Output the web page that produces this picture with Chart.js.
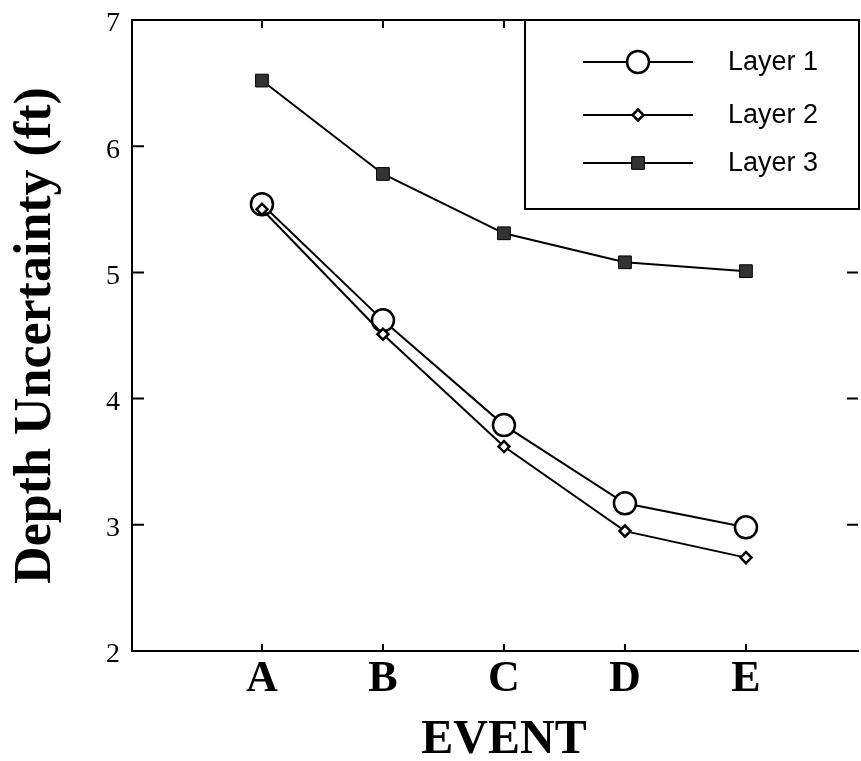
<!DOCTYPE html>
<html>
<head>
<meta charset="utf-8">
<script src="https://cdn.jsdelivr.net/npm/chart.js@4/dist/chart.umd.min.js"></script>
<style>
  body { margin: 0; background: #fff; }
  canvas { display: block; }
</style>
</head>
<body>
<canvas id="depthChart" width="861" height="761"></canvas>
<script>
// Values
const categories = ['A', 'B', 'C', 'D', 'E'];
const layer1 = [5.54, 4.62, 3.79, 3.17, 2.98];
const layer2 = [5.50, 4.51, 3.62, 2.95, 2.74];
const layer3 = [6.52, 5.78, 5.31, 5.08, 5.01];
const yTicks = [2, 3, 4, 5, 6, 7];
const seriesNames = ['Layer 1', 'Layer 2', 'Layer 3'];
const xTitle = 'EVENT';
const yTitle = 'Depth Uncertainty (ft)';

function toPoints(values) {
    return values.map((v, i) => ({ x: i, y: v }));
}

// Frame bits the original has: top border, inward ticks, boxed legend, x title
const framePlugin = {
    id: 'frame',
    afterDraw(chart) {
        const { ctx, chartArea: a, scales: { x, y } } = chart;
        ctx.save();
        ctx.strokeStyle = '#000';
        ctx.lineWidth = 2;
        ctx.beginPath();
        ctx.moveTo(a.left, a.top);
        ctx.lineTo(a.right + 2, a.top);
        yTicks.slice(1, -1).forEach(v => {
            const py = y.getPixelForValue(v);
            ctx.moveTo(a.left, py);
            ctx.lineTo(a.left + 12, py);
            ctx.moveTo(a.right, py);
            ctx.lineTo(a.right - 11, py);
        });
        categories.forEach((c, i) => {
            const px = x.getPixelForValue(i);
            ctx.moveTo(px, a.bottom);
            ctx.lineTo(px, a.bottom - 7);
            ctx.moveTo(px, a.top);
            ctx.lineTo(px, a.top + 8);
        });
        ctx.stroke();

        // legend box
        const box = { left: 525, top: a.top, right: a.right + 1, bottom: 209 };
        ctx.fillStyle = '#fff';
        ctx.fillRect(box.left, box.top + 1, box.right - box.left, box.bottom - box.top);
        ctx.beginPath();
        ctx.moveTo(box.left, box.top);
        ctx.lineTo(box.left, box.bottom);
        ctx.lineTo(box.right, box.bottom);
        ctx.lineTo(box.right, box.top);
        ctx.stroke();

        const rows = [62, 115, 163];
        chart.data.datasets.forEach((ds, i) => {
            const ry = rows[i];
            ctx.strokeStyle = '#000';
            ctx.lineWidth = 2;
            ctx.beginPath();
            ctx.moveTo(583, ry);
            ctx.lineTo(693, ry);
            ctx.stroke();
            ctx.fillStyle = ds.pointBackgroundColor;
            ctx.strokeStyle = ds.pointBorderColor;
            ctx.lineWidth = ds.pointBorderWidth;
            Chart.helpers.drawPoint(ctx, {
                pointStyle: ds.pointStyle,
                radius: ds.pointRadius,
                borderWidth: ds.pointBorderWidth,
                rotation: 0
            }, 638, ry);
            ctx.fillStyle = '#000';
            ctx.font = '27px "Liberation Sans"';
            ctx.textAlign = 'left';
            ctx.textBaseline = 'middle';
            ctx.fillText(ds.label, 728, ry + 1);
        });

        // x axis title, centred on the event ticks
        const cx = (x.getPixelForValue(0) + x.getPixelForValue(categories.length - 1)) / 2;
        ctx.fillStyle = '#000';
        ctx.font = 'bold 48px "Liberation Serif"';
        ctx.textAlign = 'center';
        ctx.textBaseline = 'alphabetic';
        ctx.fillText(xTitle, cx, 753);
        ctx.restore();
    }
};

new Chart(document.getElementById('depthChart'), {
    type: 'line',
    data: {
        datasets: [
            {
                label: seriesNames[0],
                data: toPoints(layer1),
                borderColor: '#000',
                borderWidth: 2,
                pointStyle: 'circle',
                pointRadius: 11,
                pointBorderWidth: 2.5,
                pointBackgroundColor: '#fff',
                pointBorderColor: '#000',
                order: 1
            },
            {
                label: seriesNames[1],
                data: toPoints(layer2),
                borderColor: '#000',
                borderWidth: 2,
                pointStyle: 'rectRot',
                pointRadius: 5.5,
                pointBorderWidth: 2.5,
                pointBackgroundColor: '#fff',
                pointBorderColor: '#000',
                order: 0
            },
            {
                label: seriesNames[2],
                data: toPoints(layer3),
                borderColor: '#000',
                borderWidth: 2,
                pointStyle: 'rect',
                pointRadius: 9,
                pointBorderWidth: 1,
                pointBackgroundColor: '#333',
                pointBorderColor: '#000',
                order: 2
            }
        ]
    },
    options: {
        responsive: false,
        animation: false,
        devicePixelRatio: 1,
        layout: {
            autoPadding: false,
            padding: { top: 20, right: 3, left: 0, bottom: 0 }
        },
        plugins: {
            legend: { display: false },
            tooltip: { enabled: false }
        },
        scales: {
            x: {
                type: 'linear',
                min: -1.074,
                max: 4.926,
                afterFit: s => {
                    s.height = 110;
                    s.paddingLeft = 0;
                    s.paddingRight = 0;
                },
                afterBuildTicks: s => { s.ticks = categories.map((c, i) => ({ value: i })); },
                grid: { display: false, drawTicks: false },
                border: { display: true, color: '#000', width: 2 },
                ticks: {
                    autoSkip: false,
                    maxRotation: 0,
                    color: '#000',
                    padding: 2,
                    font: { family: 'Liberation Serif', size: 44, weight: 'bold' },
                    callback: v => categories[v]
                }
            },
            y: {
                min: 2,
                max: 7,
                afterFit: s => {
                    s.width = 132;
                    s.paddingTop = 0;
                    s.paddingBottom = 0;
                },
                afterBuildTicks: s => { s.ticks = yTicks.map(v => ({ value: v })); },
                grid: { display: false, drawTicks: false },
                border: { display: true, color: '#000', width: 2 },
                ticks: {
                    color: '#000',
                    padding: 12,
                    labelOffset: 4,
                    font: { family: 'Liberation Serif', size: 28 }
                },
                title: {
                    display: true,
                    text: yTitle,
                    color: '#000',
                    font: { family: 'Liberation Serif', size: 52, weight: 'bold', lineHeight: 1 },
                    padding: { top: 11, bottom: 0 }
                }
            }
        }
    },
    plugins: [framePlugin]
});
</script>
</body>
</html>
